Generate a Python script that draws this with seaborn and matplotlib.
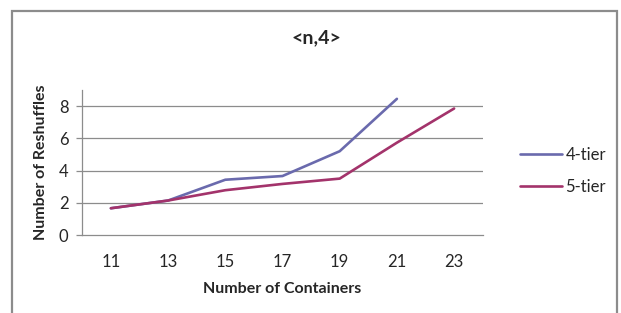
import matplotlib
matplotlib.use("Agg")
import matplotlib.pyplot as plt
import seaborn as sns
import pandas as pd
import numpy as np

# values
containers = ["11", "13", "15", "17", "19", "21", "23"]
tier4 = [1.66, 2.14, 3.43, 3.66, 5.2, 8.45, np.nan]
tier5 = [1.66, 2.14, 2.78, 3.17, 3.5, 5.73, 7.85]
series_names = ["4-tier", "5-tier"]
series_colors = ["#6A6AAD", "#A3336B"]
y_ticks = [0, 2, 4, 6, 8]

df = pd.DataFrame({
    "Containers": containers * 2,
    "Reshuffles": tier4 + tier5,
    "Tier": [series_names[0]] * len(containers) + [series_names[1]] * len(containers),
})
df = df.dropna()

sns.set_style("white")
plt.rcParams["font.family"] = ["Lato", "DejaVu Sans"]

fig = plt.figure(figsize=(6.21, 3.13), dpi=100)
ax = fig.add_axes([0.1325, 0.2492, 0.6448, 0.4633])

sns.lineplot(data=df, x="Containers", y="Reshuffles", hue="Tier",
             hue_order=series_names, palette=series_colors, linewidth=1.9,
             sort=False, ax=ax)

grid_col = "#8C8C8C"
ax.set_xlim(-0.5, len(containers) - 0.5)
ax.set_ylim(0, 9)
ax.set_yticks(y_ticks)
ax.set_xticks(range(len(containers)))
ax.set_xticklabels(containers)
ax.set_xticks(np.arange(-0.5, len(containers)), minor=True)
ax.tick_params(axis="x", which="major", length=0, pad=14, labelsize=12)
ax.tick_params(axis="x", which="minor", length=5, width=0.9, color=grid_col, direction="out")
ax.tick_params(axis="y", length=4, width=0.9, color=grid_col, pad=6, labelsize=12, left=True)
for yv in y_ticks[1:]:
    ax.axhline(yv, color=grid_col, linewidth=0.9, zorder=0)

for side in ["top", "right"]:
    ax.spines[side].set_visible(False)
for side in ["left", "bottom"]:
    ax.spines[side].set_color(grid_col)
    ax.spines[side].set_linewidth(0.9)

ax.set_xlabel("Number of Containers", fontsize=11.5, fontweight="bold", labelpad=8)
ax.set_ylabel("Number of Reshuffles", fontsize=11.5, fontweight="bold", labelpad=8)
fig.text(0.509, 0.878, "<n,4>", ha="center", va="center", fontsize=14, fontweight="bold")

ax.legend(frameon=False, loc="center left", bbox_to_anchor=(0.838, 0.455),
          bbox_transform=fig.transFigure, handlelength=2.5, handletextpad=0.2,
          labelspacing=0.95, fontsize=12, borderpad=0, borderaxespad=0)

# chart border like the spreadsheet frame
border = plt.Rectangle((12 / 621, -0.1), (617 - 12) / 621, 1.1 - 11 / 313,
                       transform=fig.transFigure, fill=False,
                       edgecolor="#8C8C8C", linewidth=1.6)
fig.add_artist(border)

fig.savefig("out.png", dpi=100)
plt.close()
